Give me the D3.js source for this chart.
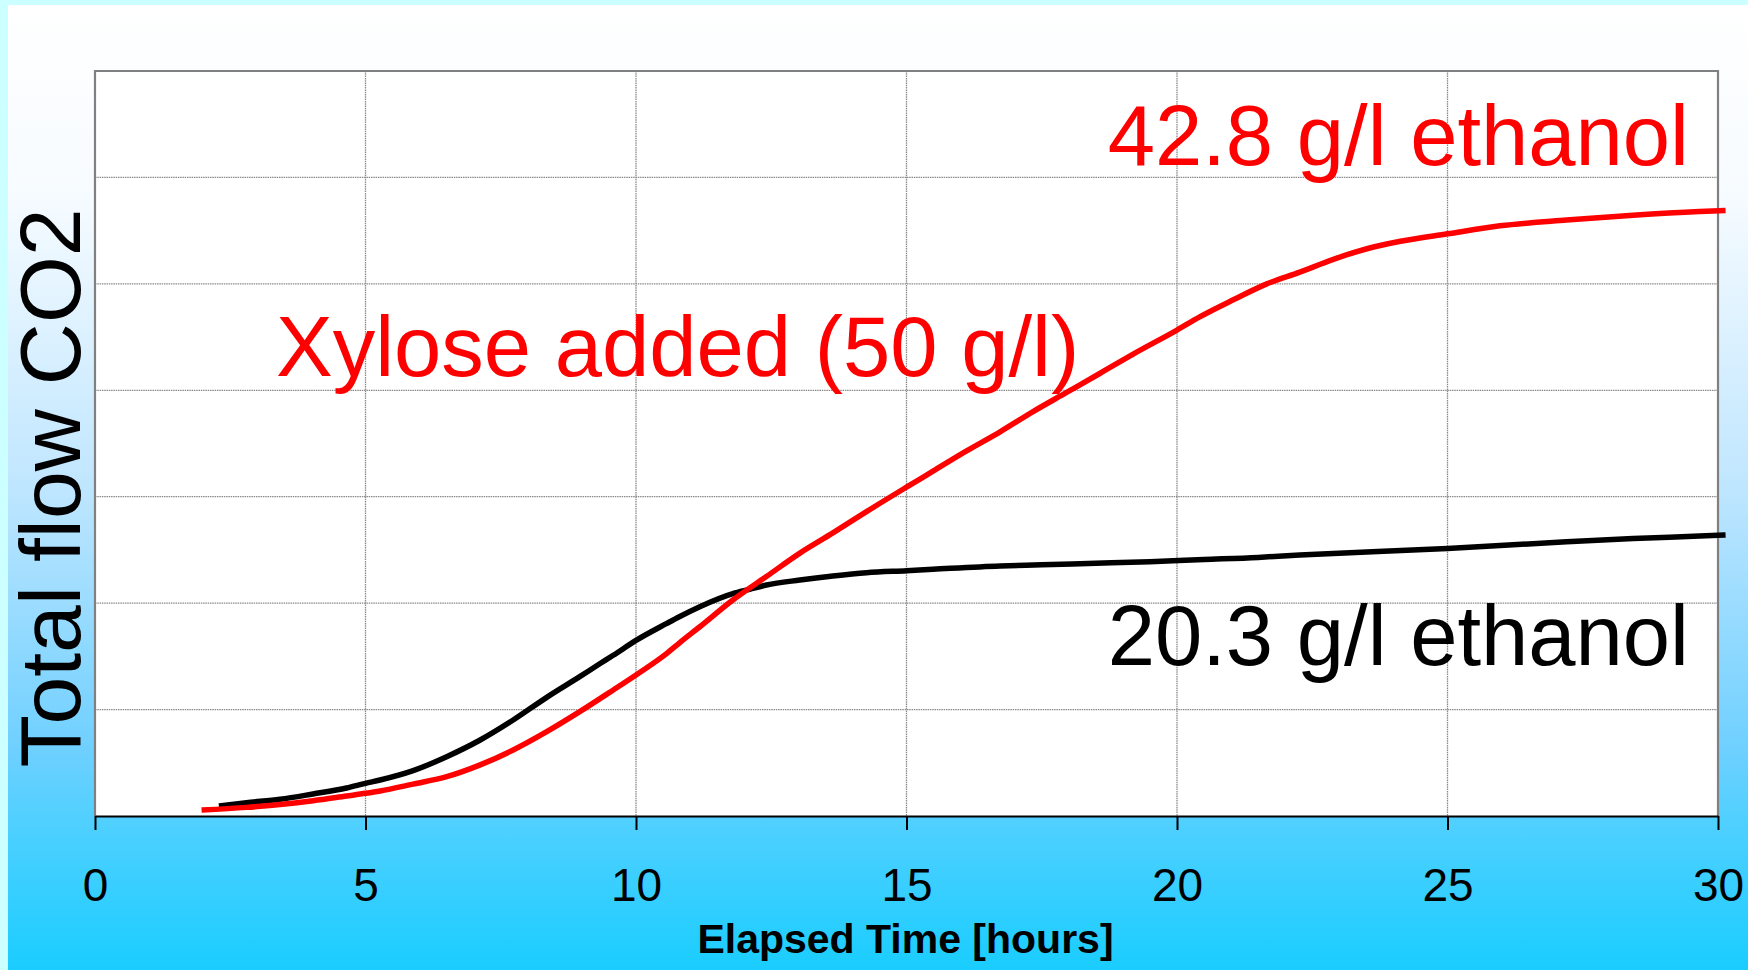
<!DOCTYPE html>
<html>
<head>
<meta charset="utf-8">
<script src="https://cdn.jsdelivr.net/npm/d3@7"></script>
<style>
  html, body { margin: 0; padding: 0; background: #ccffff; }
  svg { display: block; }
  text { font-family: "Liberation Sans", Arial, sans-serif; }
</style>
</head>
<body>
<svg id="chart" width="1748" height="970"></svg>
<script>
// ---- data ----
const xTicks = [0, 5, 10, 15, 20, 25, 30];
const yGrid = [1, 2, 3, 4, 5, 6, 7];

const glucoseTime = [2.29, 2.8, 3.42, 4.03, 4.65, 5.0, 5.27, 5.88, 6.5, 7.12, 7.73, 8.35, 8.96, 9.33, 9.58, 10, 10.57, 10.81, 11.18, 11.79, 12.1, 12.41, 13.03, 13.64, 14.26, 15, 15.49, 16.73, 17.5, 18.5, 19.5, 20.5, 21.5, 22.27, 25, 27.2, 28.43, 29.66, 30.14];
const glucoseCO2  = [0.094, 0.125, 0.157, 0.207, 0.263, 0.307, 0.338, 0.426, 0.557, 0.714, 0.902, 1.115, 1.309, 1.43, 1.51, 1.65, 1.81, 1.875, 1.967, 2.09, 2.13, 2.17, 2.217, 2.255, 2.286, 2.305, 2.318, 2.349, 2.36, 2.375, 2.39, 2.41, 2.43, 2.452, 2.514, 2.577, 2.608, 2.63, 2.64];

const xyloseTime = [1.97, 2.8, 3.42, 4.03, 4.65, 5.0, 5.27, 5.88, 6.5, 7.12, 7.73, 8.35, 8.96, 9.58, 10, 10.57, 10.81, 11.18, 11.79, 12.41, 13.03, 13.64, 14.26, 15, 15.49, 16.11, 16.73, 17.34, 17.96, 18.58, 19.19, 20, 20.42, 21.04, 21.66, 22.27, 22.89, 23.51, 24.13, 25, 25.97, 27.2, 28.43, 29.66, 30.14];
const xyloseCO2  = [0.056, 0.081, 0.109, 0.144, 0.188, 0.213, 0.235, 0.30, 0.369, 0.48, 0.62, 0.792, 0.98, 1.184, 1.325, 1.528, 1.629, 1.778, 2.03, 2.25, 2.47, 2.66, 2.86, 3.09, 3.24, 3.43, 3.61, 3.80, 3.98, 4.16, 4.34, 4.566, 4.69, 4.85, 5.00, 5.11, 5.23, 5.33, 5.40, 5.47, 5.545, 5.60, 5.645, 5.68, 5.69];

const labels = {
  yTitle: "Total flow CO2",
  xTitle: "Elapsed Time [hours]",
  xylose: "Xylose added (50 g/l)",
  high: "42.8 g/l ethanol",
  low: "20.3 g/l ethanol"
};

// ---- layout ----
const W = 1748, H = 970;
const plot = { left: 95, right: 1718, top: 71, bottom: 816 };

const svg = d3.select("#chart");

// background gradient
const defs = svg.append("defs");
const grad = defs.append("linearGradient").attr("id", "bg")
  .attr("x1", 0).attr("y1", 0).attr("x2", 0).attr("y2", 1);
[[0, "#ffffff"], [0.2, "#f6fbff"], [0.5, "#bfe6ff"], [0.77, "#6fd0ff"], [0.84, "#52d0ff"], [1, "#1acdff"]]
  .forEach(([o, c]) => grad.append("stop").attr("offset", o).attr("stop-color", c));

svg.append("rect").attr("x", 0).attr("y", 0).attr("width", W).attr("height", H).attr("fill", "#ccffff");
svg.append("rect").attr("x", 8).attr("y", 5).attr("width", W - 8).attr("height", H - 5).attr("fill", "url(#bg)");

const x = d3.scaleLinear().domain([0, 30]).range([plot.left, plot.right]);
const y = d3.scaleLinear().domain([0, 7]).range([plot.bottom, plot.top]);

// plot area
svg.append("rect")
  .attr("x", plot.left).attr("y", plot.top)
  .attr("width", plot.right - plot.left).attr("height", plot.bottom - plot.top)
  .attr("fill", "#ffffff");

// gridlines
const grid = svg.append("g");
grid.selectAll("line.h").data(yGrid.slice(0, -1)).join("line")
  .attr("x1", plot.left).attr("x2", plot.right)
  .attr("y1", d => y(d)).attr("y2", d => y(d))
  .attr("stroke", "#8a8a8a").attr("stroke-width", 1.3).attr("stroke-dasharray", "1.5,0.8");
grid.selectAll("line.v").data(xTicks.slice(1, -1)).join("line")
  .attr("y1", plot.top).attr("y2", plot.bottom)
  .attr("x1", d => x(d)).attr("x2", d => x(d))
  .attr("stroke", "#8a8a8a").attr("stroke-width", 1.3).attr("stroke-dasharray", "1.5,0.8");

// borders
svg.append("path")
  .attr("d", `M${plot.left},${plot.bottom}V${plot.top}H${plot.right}V${plot.bottom}`)
  .attr("fill", "none").attr("stroke", "#808080").attr("stroke-width", 2.2);

// lines
const line = d3.line().x(d => x(d[0])).y(d => y(d[1])).curve(d3.curveMonotoneX);
const glucose = glucoseTime.map((t, i) => [t, glucoseCO2[i]]);
const xylose = xyloseTime.map((t, i) => [t, xyloseCO2[i]]);

svg.append("path").datum(glucose).attr("d", line)
  .attr("fill", "none").attr("stroke", "#000000").attr("stroke-width", 5.5).attr("stroke-linejoin", "round");
svg.append("path").datum(xylose).attr("d", line)
  .attr("fill", "none").attr("stroke", "#ff0000").attr("stroke-width", 5.5).attr("stroke-linejoin", "round");

// x axis
const xAxis = d3.axisBottom(x).tickValues(xTicks).tickSize(14).tickSizeOuter(0).tickPadding(38).tickFormat(d3.format("d"));
const gx = svg.append("g").attr("transform", `translate(0,${plot.bottom})`).call(xAxis);
gx.select(".domain").attr("stroke", "#000").attr("stroke-width", 2.2);
gx.selectAll(".tick line").attr("stroke", "#000").attr("stroke-width", 2);
gx.selectAll(".tick text").attr("font-size", 46).attr("fill", "#000")
  .attr("font-family", "'Liberation Sans', Arial, sans-serif");

// titles
svg.append("text")
  .attr("x", (plot.left + plot.right) / 2 - 1).attr("y", 953)
  .attr("text-anchor", "middle").attr("font-size", 41).attr("font-weight", "bold")
  .text(labels.xTitle);

svg.append("text")
  .attr("transform", `translate(80,488) rotate(-90)`)
  .attr("text-anchor", "middle").attr("font-size", 86)
  .text(labels.yTitle);

// annotations
svg.append("text").attr("x", 276).attr("y", 376).attr("font-size", 85).attr("fill", "#ff0000").text(labels.xylose);
svg.append("text").attr("x", 1689).attr("y", 165).attr("text-anchor", "end").attr("font-size", 85).attr("fill", "#ff0000").text(labels.high);
svg.append("text").attr("x", 1689).attr("y", 665).attr("text-anchor", "end").attr("font-size", 85).attr("fill", "#000000").text(labels.low);
</script>
</body>
</html>
